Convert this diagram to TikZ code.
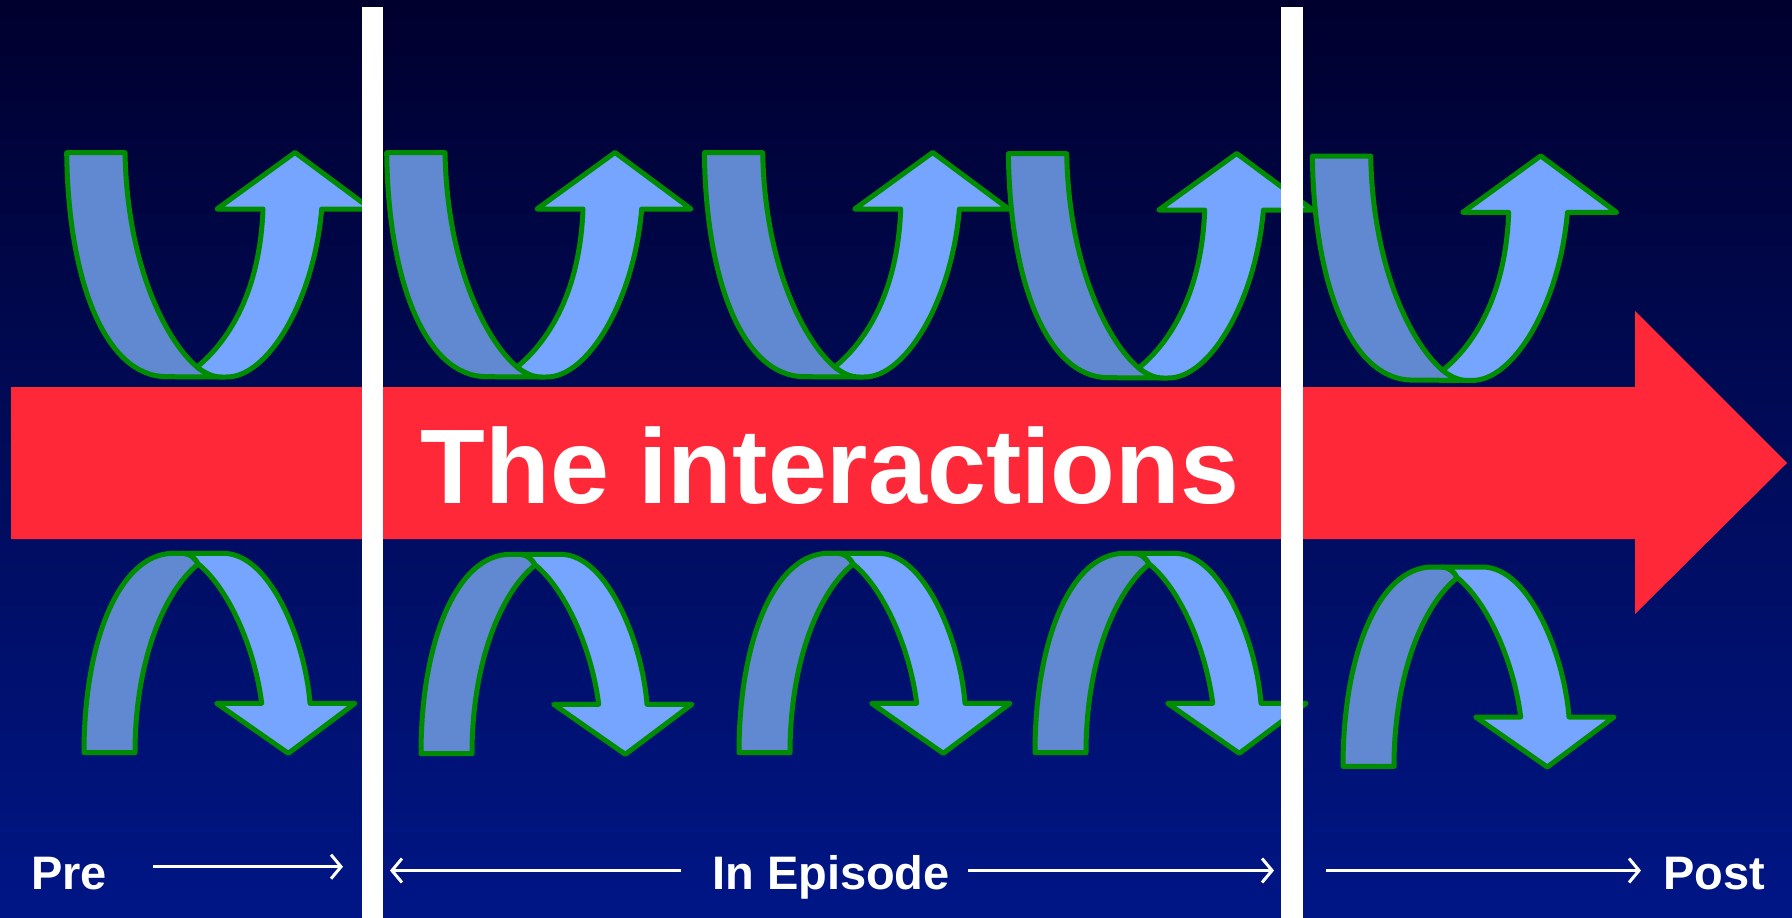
\documentclass[tikz,border=0pt]{standalone}
\usepackage{fontspec}
\setmainfont{Liberation Sans}
\usetikzlibrary{arrows.meta}
\definecolor{bgtop}{RGB}{0,0,46}
\definecolor{bgbot}{RGB}{0,22,134}
\definecolor{redarr}{RGB}{255,40,56}
\definecolor{bandd}{RGB}{96,137,210}
\definecolor{bandl}{RGB}{117,165,255}
\definecolor{edge}{RGB}{0,140,0}
\tikzset{
  darkband/.style={fill=bandd, draw=edge, line width=5pt, line join=round},
  lightband/.style={fill=bandl, draw=edge, line width=5pt, line join=round},
  timeline/.style={draw=white, line width=3pt, -{Straight Barb[length=10pt,width=24pt,line width=3pt]}},
  lbl/.style={text=white, font=\bfseries\fontsize{47}{56}\selectfont, inner sep=0pt, anchor=base west},
  bar/.style={fill=white}
}
\newcommand\myuparr[2]{%
  \begin{scope}[shift={(#1,#2)}]
    \path[darkband] (66.7,152.7) .. controls (68,280) and (105,376.7) .. (166.7,376.7)
      -- (222,377) .. controls (212,377) and (205,373) .. (197,367)
      .. controls (165,340) and (127,263) .. (125,152.7) -- cycle;
    \path[lightband] (197,367) .. controls (205,373) and (212,377) .. (222,377)
      -- (226,377) .. controls (268,378) and (314,300) .. (321.7,209)
      -- (371,209) -- (295,152.5) -- (217,209) -- (263,209)
      .. controls (260,290) and (230,340) .. (197,367) -- cycle;
  \end{scope}}
\newcommand\mydownarr[2]{%
  \begin{scope}[shift={(#1,#2)}]
    \path[darkband] (84,752.7) .. controls (84,640) and (120,553.3) .. (173.3,553.3)
      -- (183,553.3) .. controls (190,553.3) and (195,558) .. (198.3,564)
      .. controls (165,590) and (135,660) .. (135,752.7) -- cycle;
    \path[lightband] (198.3,564) .. controls (195,558) and (190,553.3) .. (183,553.3)
      -- (223.3,553.3) .. controls (270,553.3) and (305,640) .. (310,703.3)
      -- (355,703.3) -- (288.3,753.3) -- (216.7,703.3) -- (261.7,703.3)
      .. controls (255,650) and (230,590) .. (198.3,564) -- cycle;
  \end{scope}}
\begin{document}
\begin{tikzpicture}[x=1pt,y=-1pt]
  \useasboundingbox (0,0) rectangle (1792,918);
  \shade[top color=bgtop, bottom color=bgbot] (0,0) rectangle (1792,918);
  % red arrow
  \fill[redarr] (11,387) -- (1635,387) -- (1635,311) -- (1787,463) -- (1635,614) -- (1635,539) -- (11,539) -- cycle;
  \node[text=white, font=\bfseries\fontsize{106}{120}\selectfont, inner sep=0pt, anchor=base] (title) at (830,503) {The interactions};
  % curved arrows, top row
  \myuparr{0}{0}
  \myuparr{320}{0}
  \myuparr{637.7}{0}
  \myuparr{941.7}{1}
  \myuparr{1245.7}{3.4}
  % curved arrows, bottom row
  \mydownarr{0}{0}
  \mydownarr{337}{1}
  \mydownarr{655}{0}
  \mydownarr{951}{0}
  \mydownarr{1259}{13.7}
  % white bars
  \fill[bar] (362,7) rectangle (383,918);
  \fill[bar] (1281,7) rectangle (1303,918);
  % labels
  \node[lbl] (pre) at (31,889) {Pre};
  \node[lbl] (epi) at (712,889) {In Episode};
  \node[lbl] (post) at (1663,889) {Post};
  \coordinate (a1) at (153,866.7);
  \coordinate (a2) at (343,866.7);
  \coordinate (b1) at (681,870.5);
  \coordinate (b2) at (390,870.5);
  \coordinate (c1) at (968,870.5);
  \coordinate (c2) at (1274,870.5);
  \coordinate (d1) at (1326,870.5);
  \coordinate (d2) at (1641,870.5);
  \draw[timeline] (a1) -- (a2);
  \draw[timeline] (b1) -- (b2);
  \draw[timeline] (c1) -- (c2);
  \draw[timeline] (d1) -- (d2);
\end{tikzpicture}
\end{document}
